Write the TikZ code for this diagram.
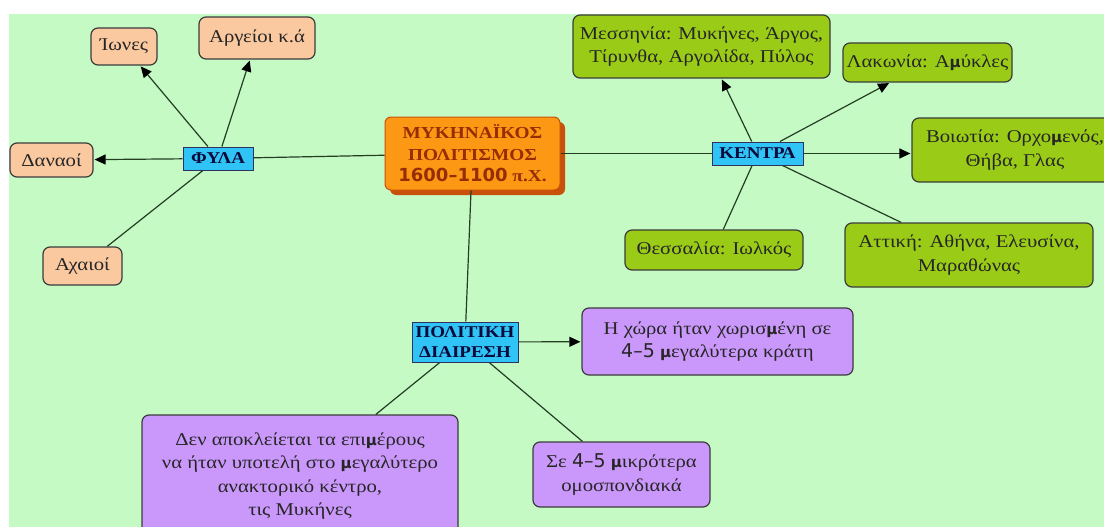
\documentclass[tikz,border=0pt]{standalone}
\usepackage{fontspec}
\setmainfont{Liberation Serif}[FakeStretch=1.15]
\newfontfamily\dvs{DejaVu Sans}
\newcommand\bmu{{\dvs\bfseries\fontsize{15}{15}\selectfont μ}}
\usetikzlibrary{arrows.meta,shadows}

\definecolor{bgmint}{RGB}{197,250,197}
\definecolor{peach}{RGB}{251,201,160}
\definecolor{olive}{RGB}{154,203,22}
\definecolor{lilac}{RGB}{202,152,250}
\definecolor{sky}{RGB}{48,195,245}
\definecolor{amber}{RGB}{252,152,20}
\definecolor{amberdark}{RGB}{200,80,10}
\definecolor{rust}{RGB}{150,45,5}
\definecolor{edge}{RGB}{60,60,60}
\definecolor{wire}{RGB}{35,62,35}
\definecolor{navy}{RGB}{10,10,60}

\tikzset{
  box/.style={draw=edge, line width=1.2pt, rounded corners=7pt, inner sep=0pt,
    align=center, text=black!85, font=\fontsize{18}{23.5}\selectfont},
  tribe/.style={box, fill=peach},
  site/.style={box, fill=olive},
  note/.style={box, fill=lilac},
  tag/.style={draw=edge!80!blue, line width=1pt, fill=sky, inner sep=0pt,
    align=center, text=navy, font=\fontsize{16.5}{19.5}\selectfont\bfseries},
  core/.style={draw=amberdark, line width=1pt, fill=amber, rounded corners=6pt,
    inner sep=0pt, align=center, text=rust,
    font=\fontsize{16.8}{21.5}\selectfont\bfseries,
    drop shadow={shadow xshift=5pt, shadow yshift=-5pt, fill=amberdark, opacity=1}},
  link/.style={draw=wire, line width=1.2pt},
  arrowlink/.style={link, -{Triangle[length=11pt,width=10pt,color=black]}, shorten >=1pt},
}

\begin{document}
\begin{tikzpicture}[x=1pt, y=-1pt]
  \useasboundingbox (0,0) rectangle (1104,527);
  \fill[white] (0,0) rectangle (1104,527);
  \fill[bgmint] (9,14) rectangle (1104,527);

  % central topic
  \node[core, minimum width=175pt, minimum height=73pt] (myc) at (472.5,153.5)
    {ΜΥΚΗΝΑΪΚΟΣ\\ΠΟΛΙΤΙΣΜΟΣ\\{\dvs\fontsize{18}{21.5}\selectfont 1600–1100} π.Χ.};

  % tribes
  \node[tag, minimum width=70pt, minimum height=23pt] (fyla) at (218,158.5) {ΦΥΛΑ};
  \node[tribe, minimum width=66pt, minimum height=37pt] (ion) at (124,46.5) {Ίωνες};
  \node[tribe, minimum width=116pt, minimum height=42pt] (arg) at (257,38) {Αργείοι κ.ά};
  \node[tribe, minimum width=83pt, minimum height=34pt] (dan) at (51.5,160) {Δαναοί};
  \node[tribe, minimum width=79pt, minimum height=38pt] (ach) at (82.5,266) {Αχαιοί};

  % centres
  \node[tag, minimum width=91pt, minimum height=23pt] (kentra) at (757.5,153.5) {ΚΕΝΤΡΑ};
  \node[site, minimum width=257pt, minimum height=63pt] (mess) at (701.5,46.5)
    {Μεσσηνία: Μυκήνες, Άργος,\\Τίρυνθα, Αργολίδα, Πύλος};
  \node[site, minimum width=169pt, minimum height=39pt] (lak) at (927.5,62.5) {Λακωνία: Α\bmu ύκλες};
  \node[site, minimum width=206pt, minimum height=64pt] (voi) at (1015,150)
    {Βοιωτία: Ορχο\bmu ενός,\\Θήβα, Γλας};
  \node[site, minimum width=178pt, minimum height=40pt] (thes) at (714,250) {Θεσσαλία: Ιωλκός};
  \node[site, minimum width=248pt, minimum height=64pt] (att) at (969,255)
    {Αττική: Αθήνα, Ελευσίνα,\\Μαραθώνας};

  % political division
  \node[tag, minimum width=106pt, minimum height=40pt] (pol) at (465,342) {ΠΟΛΙΤΙΚΗ\\ΔΙΑΙΡΕΣΗ};
  \node[note, minimum width=271pt, minimum height=67pt] (chora) at (717.5,341.5)
    {Η χώρα ήταν χωρισ\bmu ένη σε\\{\dvs\fontsize{19}{23.5}\selectfont 4–5} \bmu εγαλύτερα κράτη};
  \node[note, minimum width=177pt, minimum height=65pt] (se) at (621.5,474.5)
    {Σε {\dvs\fontsize{19}{23.5}\selectfont 4–5} \bmu ικρότερα\\ομοσπονδιακά};
  \node[note, minimum width=316pt, minimum height=122pt] (den) at (300,476)
    {Δεν αποκλείεται τα επι\bmu έρους\\να ήταν υποτελή στο \bmu εγαλύτερο\\ανακτορικό κέντρο,\\τις Μυκήνες};

  % connectors from the central topic
  \draw[link] (myc) -- (fyla);
  \draw[link] (myc) -- (kentra);
  \draw[link] (myc) -- (pol);

  % tribes
  \draw[arrowlink] (fyla) -- (ion);
  \draw[arrowlink] (fyla) -- (arg);
  \draw[arrowlink] (fyla) -- (dan);
  \draw[link] (fyla) -- (ach);

  % centres
  \draw[arrowlink] (kentra) -- ([xshift=20pt]mess.south);
  \draw[arrowlink] (kentra) -- (lak);
  \draw[arrowlink] (kentra) -- (voi.west |- kentra);
  \draw[link] (kentra) -- (thes);
  \draw[link] (kentra) -- (att);

  % political division
  \draw[arrowlink] (pol) -- (chora);
  \draw[link] (pol) -- (den);
  \draw[link] (pol) -- (se);
\end{tikzpicture}
\end{document}
